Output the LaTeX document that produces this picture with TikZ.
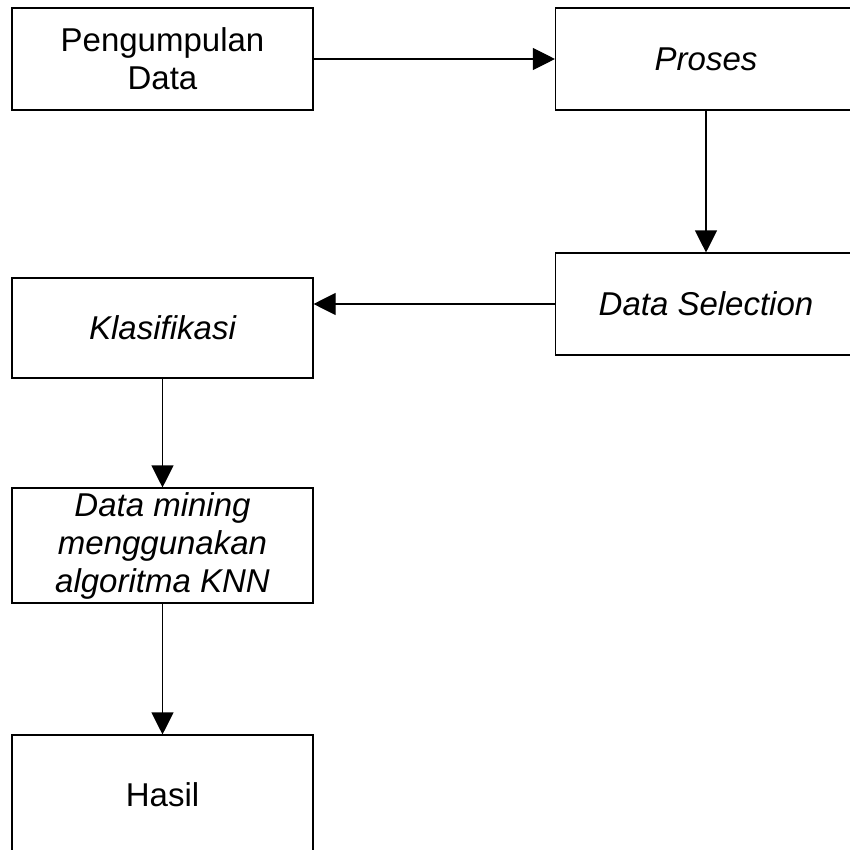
\documentclass[tikz,border=0pt]{standalone}
\usepackage{fontspec}
\setmainfont{Liberation Sans}
\usetikzlibrary{arrows.meta}
\begin{document}
\begin{tikzpicture}[x=1pt,y=-1pt,
  box/.style={draw=black, line width=1.1pt, rectangle, minimum width=301pt,
    inner sep=0pt, align=center, font=\fontsize{33}{38}\selectfont},
  flow/.style={draw=black, line width=1.1pt,
    -{Triangle[width=22pt,length=22pt]}}]
  \useasboundingbox (0,0) rectangle (850,850);
  \node[box, minimum height=102pt] (kumpul) at (162.5,59) {Pengumpulan\\Data};
  \node[box, minimum height=102pt] (proses) at (706,59) {\itshape Proses};
  \node[box, minimum height=102pt] (seleksi) at (706,304) {\itshape Data Selection};
  \node[box, minimum height=100pt] (klas) at (162.5,328) {\itshape Klasifikasi};
  \node[box, minimum height=115pt] (mining) at (162.5,545.5)
    {\itshape Data mining\\\itshape menggunakan\\\itshape algoritma KNN};
  \node[box, minimum height=120pt] (hasil) at (162.5,795) {Hasil};
  \draw[flow] (kumpul.east) -- (proses.west);
  \draw[flow] (proses.south) -- (seleksi.north);
  \draw[flow] (seleksi.west) -- (seleksi.west -| klas.east);
  \draw[flow] (klas.south) -- (mining.north);
  \draw[flow] (mining.south) -- (hasil.north);
\end{tikzpicture}
\end{document}
